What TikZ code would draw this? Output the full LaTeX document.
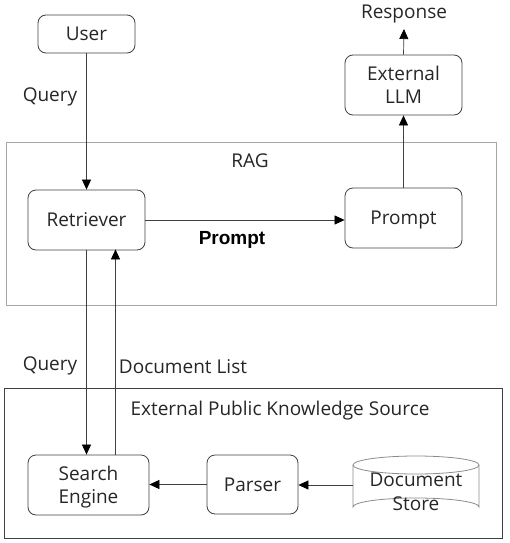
\documentclass[tikz,border=0pt]{standalone}
\usepackage{fontspec}
\setmainfont{Open Sans}
\newfontfamily\arialfont{Liberation Sans}
\usetikzlibrary{arrows.meta}
\begin{document}
\begin{tikzpicture}[x=1pt,y=-1pt,
  box/.style={draw=black!75,rounded corners=8pt,line width=0.8pt,inner sep=0pt,align=center,font=\fontsize{19}{23.5}\selectfont,text=black!85,text depth=0pt},
  lbl/.style={font=\fontsize{19}{23.5}\selectfont,text=black!85,inner sep=0pt},
  arr/.style={draw=black!75,line width=0.7pt,-{Triangle[length=10pt,width=9pt,fill=black,color=black]}}]
\useasboundingbox (0,0) rectangle (509,543);
\draw[draw=black!35,line width=0.9pt] (6,142) rectangle (496,305);
\draw[draw=black!75,line width=0.9pt] (4,388) rectangle (502,538);
\node[lbl] (raglbl) at (250,161) {RAG};
\node[lbl] (extlbl) at (280,411) {External Public Knowledge Source};
\node[box,minimum width=97pt,minimum height=38pt] (user) at (86.5,34) {User};
\node[box,minimum width=117pt,minimum height=60pt] (llm) at (403.5,85) {External\\LLM};
\node[lbl] (resp) at (404,14) {Response};
\node[box,minimum width=117pt,minimum height=60pt] (ret) at (86.5,220) {Retriever};
\node[box,minimum width=117pt,minimum height=60pt] (prm) at (403.5,218) {Prompt};
\node[box,minimum width=121pt,minimum height=60pt] (se) at (88.5,485) {Search\\Engine};
\node[box,minimum width=91pt,minimum height=59pt] (par) at (252.5,484.5) {Parser};
% cylinder
\draw[draw=black!45,line width=0.8pt,fill=white] (353,465) -- (353,507) arc[start angle=180,end angle=360,x radius=63,y radius=9] -- (479,465);
\draw[draw=black!45,line width=0.8pt] (416,465) ellipse[x radius=63,y radius=9];
\node[lbl,align=center] (store) at (416,492) {Document\\Store};
\coordinate (storeL) at (353,485);
\coordinate (respB) at (404,29);
% arrows
\draw[arr] (llm.north) -- (respB);
\draw[arr] (prm.north) -- (llm.south);
\draw[arr] (user.south) -- (ret.north);
\draw[arr] (ret.east) -- (prm.west |- ret.east);
\node[font=\arialfont\bfseries\fontsize{19}{22}\selectfont,inner sep=0pt] (plbl) at (232,240) {Prompt};
\draw[arr] (ret.south) -- (ret.south |- se.north);
\draw[arr] ([xshift=27pt]se.north) -- ([xshift=27pt]se.north |- ret.south) ++(0,-1);
\node[lbl] (q1) at (50,97) {Query};
\node[lbl] (q2) at (50,366) {Query};
\node[lbl] (dl) at (183,367) {Document List};
\draw[arr] (par.west) -- (se.east |- par.west);
\draw[arr] (storeL) -- (par.east |- storeL);
\end{tikzpicture}
\end{document}
